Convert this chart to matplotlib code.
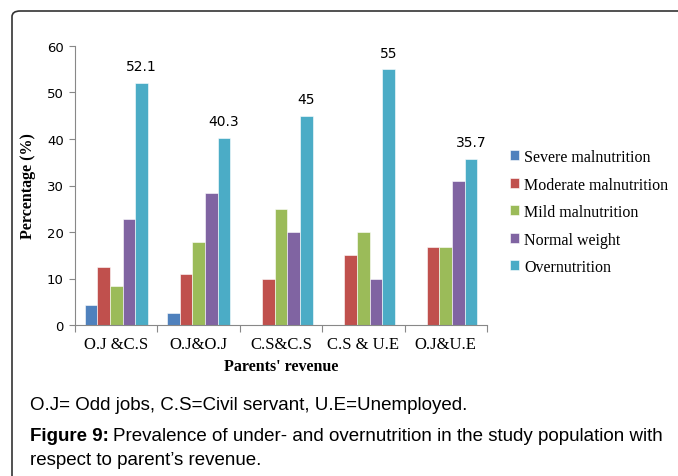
import numpy as np
import matplotlib.pyplot as plt
from matplotlib.patches import FancyBboxPatch

# data
groups = ['O.J &C.S', 'O.J&O.J', 'C.S&C.S', 'C.S & U.E', 'O.J&U.E']
series = ['Severe malnutrition', 'Moderate malnutrition', 'Mild malnutrition',
          'Normal weight', 'Overnutrition']
severe = [4.2, 2.6, 0, 0, 0]
moderate = [12.5, 11.0, 10.0, 15.0, 16.7]
mild = [8.3, 17.9, 25.0, 20.0, 16.7]
normal = [22.9, 28.3, 20.0, 10.0, 31.0]
over = [52.1, 40.3, 45.0, 55.0, 35.7]
colors = ['#4F81BD', '#C0504D', '#9BBB59', '#8064A2', '#4BACC6']

values = [severe, moderate, mild, normal, over]

fig = plt.figure(figsize=(6.78, 4.77), dpi=100)
ax = fig.add_axes([75/678, 1-326/477, (487-75)/678, (326-47)/477])

x = np.arange(len(groups))
w = 0.153
for i, (name, vals) in enumerate(zip(series, values)):
    pos = x + (i - 2) * w
    bars = ax.bar(pos, vals, width=w, color=colors[i], label=name,
                  edgecolor='white', linewidth=0.4)
    if name == 'Overnutrition':
        for b, v in zip(bars, vals):
            ax.annotate(f'{v:g}', (b.get_x() + b.get_width()/2, v),
                        xytext=(0, 7), textcoords='offset points',
                        ha='center', va='bottom', fontsize=10,
                        family='DejaVu Sans')

ax.set_xlim(-0.5, 4.5)
ax.set_ylim(0, 60)
ax.set_yticks(range(0, 61, 10))
ax.set_xticks(np.arange(-0.5, 5, 1))
ax.set_xticklabels([])
ax.set_xticks(x, minor=True)
ax.set_xticklabels(groups, minor=True, family='Liberation Serif', fontsize=12)
ax.tick_params(axis='x', which='minor', length=0, pad=8)
ax.tick_params(axis='x', which='major', length=5, color='#888888')
ax.tick_params(axis='y', length=4, color='#888888', labelsize=9.5, pad=4)

for s in ['top', 'right']:
    ax.spines[s].set_visible(False)
for s in ['left', 'bottom']:
    ax.spines[s].set_color('#888888')

ax.set_ylabel('Percentage (%)', family='Liberation Serif', fontweight='bold',
              fontsize=11.5, labelpad=8)
ax.set_xlabel("Parents' revenue", family='Liberation Serif', fontweight='bold',
              fontsize=11.5, labelpad=4)

ax.legend(loc='center left', bbox_to_anchor=(1.02, 0.405), frameon=False,
          prop={'family': 'Liberation Serif', 'size': 11.5},
          handlelength=0.6, handleheight=0.6, handletextpad=0.3,
          labelspacing=0.72)

# outer frame of the figure box
box = FancyBboxPatch((12/678, -0.1), 1.2, 1 - 12/477 + 0.1,
                     boxstyle='round,pad=0,rounding_size=0.012',
                     transform=fig.transFigure, fill=False,
                     edgecolor='#333333', linewidth=1.2)
fig.patches.append(box)

cap = 13.5
fig.text(30/678, 1-405/477, 'O.J= Odd jobs, C.S=Civil servant, U.E=Unemployed.',
         family='Liberation Sans', fontsize=cap, va='center')
t = fig.text(30/678, 1-437/477, 'Figure 9:', family='Liberation Sans',
             fontweight='bold', fontsize=cap, va='center')
r = fig.canvas.get_renderer()
bb = t.get_window_extent(renderer=r)
fig.text((bb.x1 + 4)/678, 1-437/477,
         'Prevalence of under- and overnutrition in the study population with',
         family='Liberation Sans', fontsize=cap, va='center')
fig.text(30/678, 1-461/477, 'respect to parent\u2019s revenue.',
         family='Liberation Sans', fontsize=cap, va='center')

fig.savefig('out.png', dpi=100)
